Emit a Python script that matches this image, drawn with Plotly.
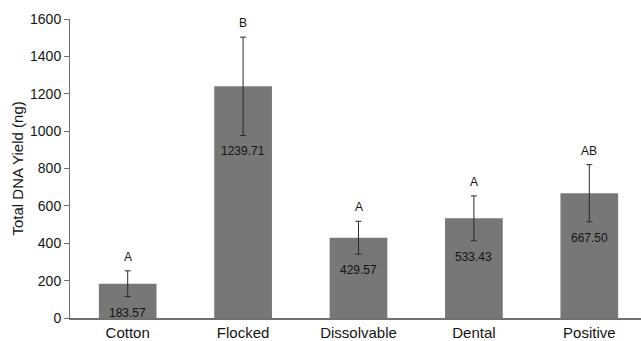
import plotly.graph_objects as go

categories = ["Cotton", "Flocked", "Dissolvable", "Dental", "Positive"]
means = [183.57, 1239.71, 429.57, 533.43, 667.50]
errors = [69, 263, 88, 120, 153]
letters = ["A", "B", "A", "A", "AB"]
value_labels = ["183.57", "1239.71", "429.57", "533.43", "667.50"]
y_ticks = [0, 200, 400, 600, 800, 1000, 1200, 1400, 1600]

FONT = "Liberation Sans, Arial, sans-serif"
TXT = "#141414"

fig = go.Figure()
fig.add_trace(go.Bar(
    x=categories, y=means,
    marker=dict(color="#777777", line=dict(width=0)),
    error_y=dict(type="data", array=errors, visible=True,
                 color="#2a2a2a", thickness=1, width=3),
    hoverinfo="skip",
))

for c, m, e, l, v in zip(categories, means, errors, letters, value_labels):
    fig.add_annotation(x=c, y=m + e, text=l, showarrow=False,
                       yanchor="bottom", yshift=5,
                       font=dict(family=FONT, size=12, color=TXT))
    fig.add_annotation(x=c, y=m - e, text=v, showarrow=False,
                       yanchor="top", yshift=-7,
                       font=dict(family=FONT, size=12, color=TXT))

fig.add_annotation(xref="paper", yref="paper", x=0, y=0.5, xshift=-53,
                   text="Total DNA Yield (ng)", textangle=-90, showarrow=False,
                   xanchor="center", yanchor="middle",
                   font=dict(family=FONT, size=15, color=TXT))

fig.update_layout(
    width=641, height=341,
    margin=dict(l=70, r=0, t=19, b=20),
    paper_bgcolor="white", plot_bgcolor="white",
    bargap=0.5, showlegend=False,
    font=dict(family=FONT, size=14, color=TXT),
)
fig.update_xaxes(range=[-0.5, 4.448], showline=True, linecolor="#707070",
                 linewidth=2, ticks="", showgrid=False, zeroline=False,
                 tickfont=dict(family=FONT, size=15, color=TXT))
fig.update_yaxes(range=[0, 1600], tickvals=y_ticks, showline=True,
                 linecolor="#707070", linewidth=1, ticks="outside", ticklen=5,
                 tickcolor="#707070", showgrid=False, zeroline=False,
                 tickfont=dict(family=FONT, size=14, color=TXT))

fig.write_html("out.html", config={"displayModeBar": False},
               post_script="document.body.style.margin='0';document.body.style.overflow='hidden';")
